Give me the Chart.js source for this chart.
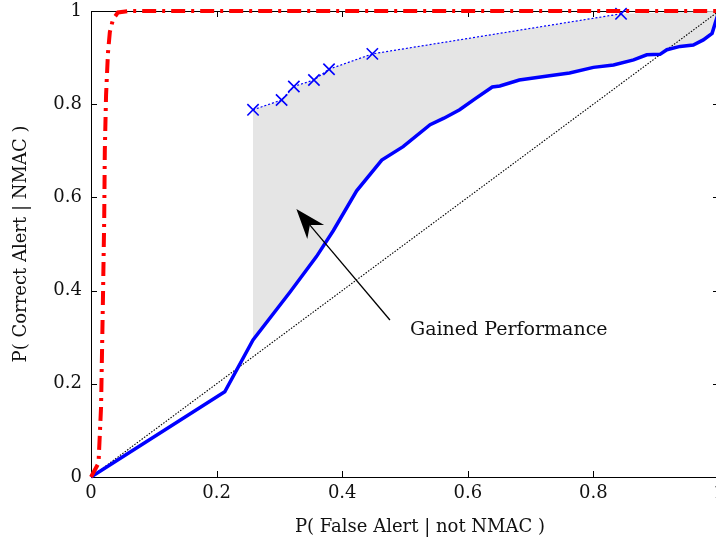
<!DOCTYPE html>
<html><head><meta charset="utf-8">
<style>
html,body{margin:0;padding:0;overflow:hidden;background:#fff;width:716px;height:546px}
#wrap{position:absolute;left:0;top:0;width:730px;height:546px}
</style>
<script src="https://cdn.jsdelivr.net/npm/chart.js@4.4.1/dist/chart.umd.min.js"></script>
</head><body><div id="wrap"><canvas id="c"></canvas></div>
<script>
// Ideal (red) ROC curve
const redX = [0, 0.012, 0.016, 0.019, 0.021, 0.022, 0.024, 0.027, 0.030, 0.035, 0.043, 0.060, 1.0];
const redY = [0, 0.030, 0.150, 0.380, 0.550, 0.700, 0.820, 0.910, 0.955, 0.982, 0.997, 1.000, 1.0];
// Baseline (blue) ROC curve
const blueX = [0, 0.213, 0.258, 0.317, 0.359, 0.386, 0.423, 0.463, 0.497, 0.540, 0.562, 0.587, 0.612, 0.639, 0.651, 0.682, 0.730, 0.762, 0.800, 0.832, 0.864, 0.885, 0.906, 0.917, 0.938, 0.959, 0.975, 0.989, 0.994, 1.0];
const blueY = [0, 0.183, 0.294, 0.397, 0.473, 0.529, 0.614, 0.680, 0.709, 0.756, 0.770, 0.788, 0.812, 0.837, 0.839, 0.852, 0.861, 0.867, 0.879, 0.884, 0.895, 0.906, 0.907, 0.917, 0.924, 0.927, 0.938, 0.952, 0.974, 1.0];
// Improved operating points (x markers)
const markX = [0.258, 0.3035, 0.323, 0.355, 0.379, 0.448, 0.844];
const markY = [0.788, 0.809, 0.838, 0.852, 0.875, 0.908, 0.994];
// Chance diagonal
const diagX = [0, 1];
const diagY = [0, 1];
// Axis ticks
const tickValues = [0, 0.2, 0.4, 0.6, 0.8, 1];
const xTitle = 'P( False Alert | not NMAC )';
const yTitle = 'P( Correct Alert | NMAC )';
const annotationText = 'Gained Performance';

const pts = (xs, ys) => xs.map((x, i) => ({x, y: ys[i]}));
const markPts = pts(markX, markY);
const bluePts = pts(blueX, blueY);
const fillPts = markPts.concat([{x: 1, y: 1}])
  .concat(bluePts.filter(p => p.x >= markX[0]).reverse());

const FONT = "'DejaVu Serif', serif";
const fmt = v => String(Math.round(v * 10) / 10);

const boxPlugin = {
  id: 'box',
  beforeDatasetsDraw(chart) {
    const {ctx, chartArea: a, scales: {x, y}} = chart;
    ctx.save();
    ctx.strokeStyle = '#000';
    ctx.lineWidth = 1;
    ctx.strokeRect(a.left + 0.5, a.top + 0.5, a.right - a.left, a.bottom - a.top);
    const L = 6;
    ctx.beginPath();
    x.ticks.forEach(t => {
      const p = Math.round(x.getPixelForValue(t.value)) + 0.5;
      ctx.moveTo(p, a.bottom); ctx.lineTo(p, a.bottom - L);
      ctx.moveTo(p, a.top); ctx.lineTo(p, a.top + L);
    });
    y.ticks.forEach(t => {
      const p = Math.round(y.getPixelForValue(t.value)) + 0.5;
      ctx.moveTo(a.left, p); ctx.lineTo(a.left + L, p);
      ctx.moveTo(a.right, p); ctx.lineTo(a.right - L, p);
    });
    ctx.stroke();
    ctx.restore();
  },
  afterDraw(chart) {
    const {ctx} = chart;
    ctx.save();
    ctx.font = "18px " + FONT;
    ctx.fillStyle = '#111';
    ctx.textAlign = 'center';
    ctx.textBaseline = 'middle';
    ctx.fillText(xTitle, 420, 527);
    ctx.restore();
  }
};

const arrowPlugin = {
  id: 'arrow',
  afterDatasetsDraw(chart) {
    const {ctx, scales: {x, y}} = chart;
    const tx = x.getPixelForValue(0.476), ty = y.getPixelForValue(0.337);
    const hx = x.getPixelForValue(0.327), hy = y.getPixelForValue(0.575);
    const dx = hx - tx, dy = hy - ty, len = Math.hypot(dx, dy);
    const ux = dx / len, uy = dy / len, px = -uy, py = ux;
    const HL = 30, HW = 11, NOTCH = 21;
    ctx.save();
    ctx.strokeStyle = '#000';
    ctx.lineWidth = 1.3;
    ctx.beginPath();
    ctx.moveTo(tx, ty);
    ctx.lineTo(hx - ux * NOTCH, hy - uy * NOTCH);
    ctx.stroke();
    ctx.fillStyle = '#000';
    ctx.beginPath();
    ctx.moveTo(hx, hy);
    ctx.lineTo(hx - ux * HL + px * HW, hy - uy * HL + py * HW);
    ctx.lineTo(hx - ux * NOTCH, hy - uy * NOTCH);
    ctx.lineTo(hx - ux * HL - px * HW, hy - uy * HL - py * HW);
    ctx.closePath();
    ctx.fill();
    ctx.font = "19px " + FONT;
    ctx.textAlign = 'left';
    ctx.textBaseline = 'alphabetic';
    ctx.fillStyle = '#111';
    ctx.fillText(annotationText, x.getPixelForValue(0.508), y.getPixelForValue(0.3044));
    ctx.restore();
  }
};

const zeroPad = s => { s.paddingTop = 0; s.paddingBottom = 0; s.paddingLeft = 0; s.paddingRight = 0; };

new Chart(document.getElementById('c'), {
  type: 'scatter',
  data: {
    datasets: [
      {data: pts(redX, redY), showLine: true, borderColor: '#ff0000', borderWidth: 4,
       borderDash: [14, 6, 3, 6], pointRadius: 0, order: 1, clip: 10, tension: 0},
      {data: bluePts, showLine: true, borderColor: '#0000ff', borderWidth: 3.5,
       pointRadius: 0, order: 2, clip: 10, tension: 0},
      {data: markPts, showLine: true, borderColor: '#0000ff', borderWidth: 1.2,
       borderDash: [2, 2], pointStyle: 'crossRot', pointRadius: 8,
       pointBorderWidth: 1.6, pointBorderColor: '#0000ff', order: 3, clip: 10},
      {data: pts(diagX, diagY), showLine: true, borderColor: '#000', borderWidth: 1.1,
       borderDash: [1.5, 1.5], pointRadius: 0, order: 4, clip: 10},
      {data: fillPts, showLine: true, borderWidth: 0, borderColor: 'rgba(0,0,0,0)',
       backgroundColor: '#e5e5e5', fill: 'shape', pointRadius: 0, order: 5}
    ]
  },
  options: {
    responsive: true,
    maintainAspectRatio: false,
    animation: false,
    events: [],
    layout: {padding: {top: 11, right: 11, left: 0, bottom: 0}},
    plugins: {legend: {display: false}, tooltip: {enabled: false}},
    scales: {
      x: {
        type: 'linear', min: 0, max: 1,
        afterBuildTicks: s => { s.ticks = tickValues.map(v => ({value: v})); },
        afterFit: s => { s.height = 69; zeroPad(s); },
        grid: {display: false, drawTicks: false},
        border: {display: false},
        ticks: {color: '#111', font: {family: FONT, size: 18}, padding: 6, maxRotation: 0,
                callback: fmt},
        title: {display: false, text: xTitle}
      },
      y: {
        type: 'linear', min: 0, max: 1,
        afterBuildTicks: s => { s.ticks = tickValues.map(v => ({value: v})); },
        afterFit: s => { s.width = 91; zeroPad(s); },
        grid: {display: false, drawTicks: false},
        border: {display: false},
        ticks: {color: '#111', font: {family: FONT, size: 18}, padding: 9, callback: fmt},
        title: {display: true, text: yTitle, color: '#111', font: {family: FONT, size: 18},
                padding: {top: 11, bottom: 0}}
      }
    }
  },
  plugins: [boxPlugin, arrowPlugin]
});
</script></body></html>
